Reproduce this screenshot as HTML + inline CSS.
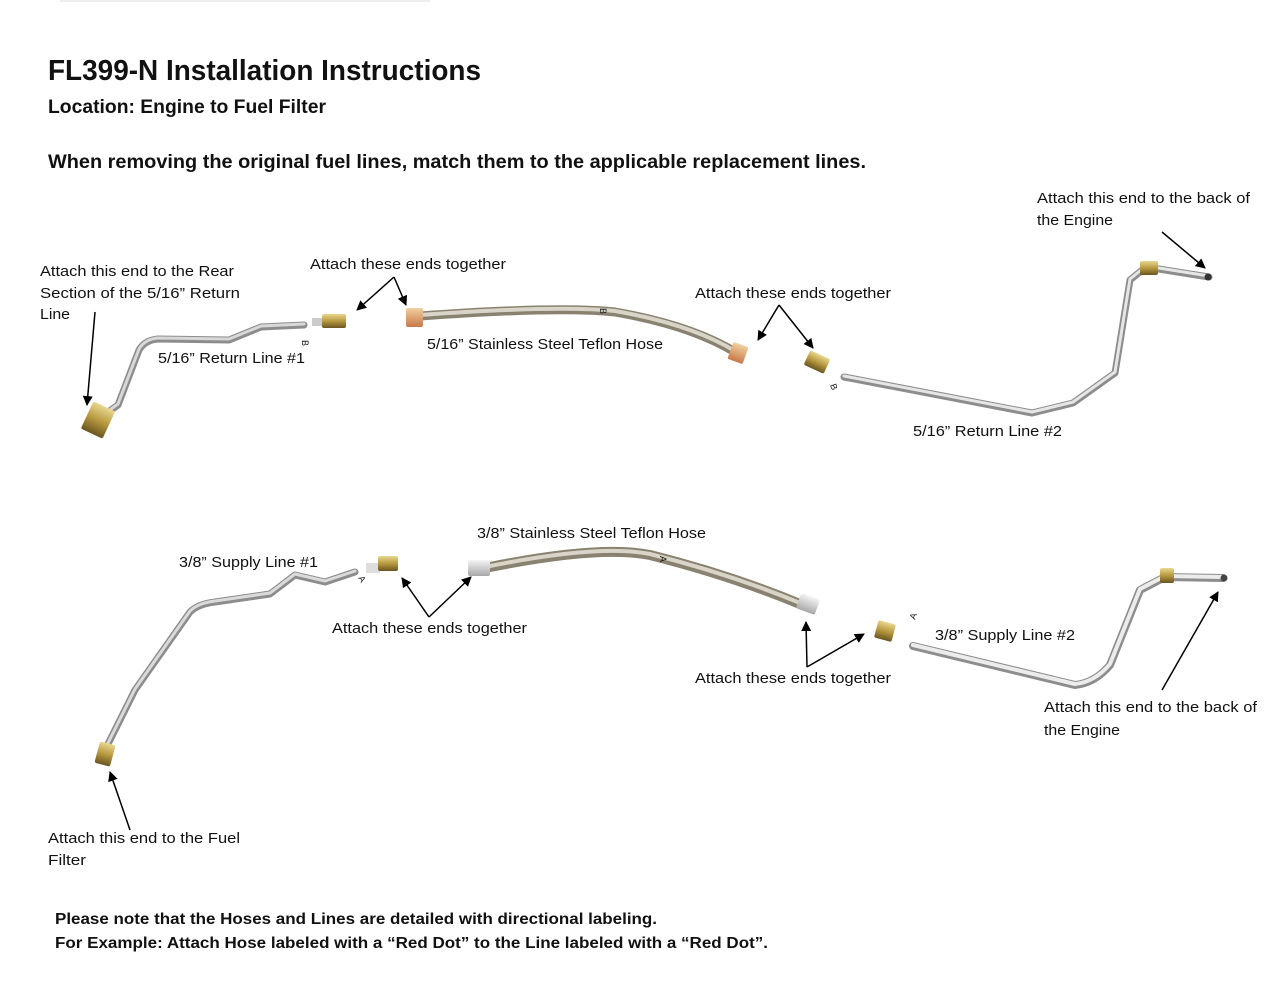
<!DOCTYPE html>
<html><head><meta charset="utf-8"><style>
html,body{margin:0;padding:0;background:#fff;}
svg{display:block;}
text{font-family:"Liberation Sans",sans-serif;fill:#111;}
.l{font-size:15px;}
.b{font-weight:bold;}
</style></head><body>
<svg width="1280" height="989" viewBox="0 0 1280 989" xmlns="http://www.w3.org/2000/svg">
<defs>
<marker id="ah" markerWidth="10" markerHeight="10" refX="9" refY="5" orient="auto" markerUnits="userSpaceOnUse"><path d="M0,0 L10,5 L0,10 z" fill="#000"/></marker>
<linearGradient id="gold" x1="0" y1="0" x2="0" y2="1"><stop offset="0" stop-color="#e8d890"/><stop offset="0.5" stop-color="#b89a40"/><stop offset="1" stop-color="#6a5520"/></linearGradient>
<linearGradient id="cop" x1="0" y1="0" x2="0" y2="1"><stop offset="0" stop-color="#f2d0a0"/><stop offset="1" stop-color="#c87848"/></linearGradient>
<linearGradient id="sil" x1="0" y1="0" x2="0" y2="1"><stop offset="0" stop-color="#f4f4f4"/><stop offset="1" stop-color="#a8a8a8"/></linearGradient>
</defs>
<line x1="60" y1="1" x2="430" y2="1" stroke="#eee" stroke-width="2"/>
<text x="48" y="80" class="b" font-size="29" textLength="433" lengthAdjust="spacingAndGlyphs">FL399-N Installation Instructions</text>
<text x="48" y="113" class="b" font-size="19" textLength="278" lengthAdjust="spacingAndGlyphs">Location: Engine to Fuel Filter</text>
<text x="48" y="168" class="b" font-size="19" textLength="818" lengthAdjust="spacingAndGlyphs">When removing the original fuel lines, match them to the applicable replacement lines.</text>

<g fill="none" stroke-linecap="round" stroke-linejoin="round">
<!-- return line 1 -->
<path d="M100,418 L118,405 L139,350 Q145,340 158,339 L229,340 L261,327 L304,325" stroke="#8d8d8d" stroke-width="7"/>
<path d="M100,417 L118,404 L139,349 Q145,339 158,338 L229,339 L261,326 L304,324" stroke="#d8d8d8" stroke-width="3"/>
<!-- return line 2 -->
<path d="M844,377 L1032,413 L1073,403 L1115,373 L1130,280 L1146,267 L1209,277" stroke="#8d8d8d" stroke-width="7"/>
<path d="M844,376 L1032,412 L1073,402 L1115,372 L1130,279 L1146,266 L1209,276" stroke="#e6e6e6" stroke-width="3"/>
<!-- hose 1 -->
<path d="M420,316 Q560,306 615,312 Q690,325 735,352" stroke="#8a8270" stroke-width="9"/>
<path d="M420,315 Q560,305 615,311 Q690,324 735,351" stroke="#d8d4c8" stroke-width="4"/>
<!-- supply line 1 -->
<path d="M105,750 L135,690 L190,612 Q198,604 215,602 L270,594 L295,575 L325,582 L355,572" stroke="#8d8d8d" stroke-width="7"/>
<path d="M105,749 L135,689 L190,611 Q198,603 215,601 L270,593 L295,574 L325,581 L355,571" stroke="#dadada" stroke-width="3"/>
<!-- hose 2 -->
<path d="M490,567 Q600,545 650,555 Q730,575 800,604" stroke="#8a8270" stroke-width="10"/>
<path d="M490,566 Q600,544 650,554 Q730,574 800,603" stroke="#d8d4c8" stroke-width="4"/>
<!-- supply line 2 -->
<path d="M913,646 L1075,685 Q1095,683 1110,665 L1140,590 L1165,577 L1223,578" stroke="#8d8d8d" stroke-width="8"/>
<path d="M913,645 L1075,684 Q1095,682 1110,664 L1140,589 L1165,576 L1223,577" stroke="#ececec" stroke-width="4"/>
</g>
<!-- fittings -->
<rect x="86" y="405" width="24" height="30" rx="2" fill="url(#gold)" transform="rotate(25 98 420)"/>
<rect x="312" y="318" width="12" height="8" fill="#ccc"/>
<rect x="322" y="314" width="24" height="14" rx="2" fill="url(#gold)"/>
<rect x="406" y="308" width="17" height="19" rx="2" fill="url(#cop)"/>
<rect x="730" y="344" width="16" height="18" rx="2" fill="url(#cop)" transform="rotate(20 738 353)"/>
<rect x="806" y="354" width="22" height="16" rx="2" fill="url(#gold)" transform="rotate(25 817 362)"/>
<rect x="1140" y="261" width="18" height="14" rx="2" fill="url(#gold)"/>
<circle cx="1208" cy="277" r="3.5" fill="#333"/>
<rect x="97" y="743" width="16" height="22" rx="2" fill="url(#gold)" transform="rotate(15 105 754)"/>
<rect x="366" y="563" width="14" height="10" fill="#ddd"/>
<rect x="378" y="556" width="20" height="15" rx="2" fill="url(#gold)"/>
<rect x="468" y="560" width="22" height="16" rx="2" fill="url(#sil)"/>
<rect x="798" y="596" width="20" height="16" rx="2" fill="url(#sil)" transform="rotate(20 808 604)"/>
<rect x="876" y="622" width="18" height="18" rx="2" fill="url(#gold)" transform="rotate(15 885 631)"/>
<rect x="1160" y="568" width="14" height="15" rx="2" fill="url(#gold)"/>
<circle cx="1224" cy="578" r="3.5" fill="#444"/>
<!-- small letters -->
<text x="302" y="340" font-size="9" transform="rotate(90 302 340)">B</text>
<text x="600" y="308" font-size="9" transform="rotate(90 600 308)">B</text>
<text x="830" y="385" font-size="9" transform="rotate(70 830 385)">B</text>
<text x="358" y="578" font-size="9" transform="rotate(60 358 578)">A</text>
<text x="660" y="556" font-size="9" transform="rotate(90 660 556)">A</text>
<text x="915" y="620" font-size="9" transform="rotate(-70 915 620)">A</text>
<!-- arrows -->
<g stroke="#000" stroke-width="1.5" fill="none" marker-end="url(#ah)">
<line x1="95" y1="312" x2="87" y2="405"/>
<line x1="394" y1="277" x2="357" y2="310"/>
<line x1="394" y1="277" x2="406" y2="305"/>
<line x1="779" y1="305" x2="758" y2="340"/>
<line x1="779" y1="305" x2="813" y2="348"/>
<line x1="1162" y1="232" x2="1205" y2="268"/>
<line x1="429" y1="617" x2="402" y2="578"/>
<line x1="429" y1="617" x2="471" y2="577"/>
<line x1="807" y1="667" x2="806" y2="622"/>
<line x1="807" y1="667" x2="864" y2="634"/>
<line x1="1162" y1="690" x2="1218" y2="592"/>
<line x1="130" y1="830" x2="110" y2="772"/>
</g>
<!-- labels -->
<g class="l">
<text x="40" y="276" textLength="194" lengthAdjust="spacingAndGlyphs">Attach this end to the Rear</text>
<text x="40" y="298" textLength="200" lengthAdjust="spacingAndGlyphs">Section of the 5/16” Return</text>
<text x="40" y="319" textLength="30" lengthAdjust="spacingAndGlyphs">Line</text>
<text x="310" y="269" textLength="196" lengthAdjust="spacingAndGlyphs">Attach these ends together</text>
<text x="158" y="363" textLength="147" lengthAdjust="spacingAndGlyphs">5/16” Return Line #1</text>
<text x="427" y="349" textLength="236" lengthAdjust="spacingAndGlyphs">5/16” Stainless Steel Teflon Hose</text>
<text x="695" y="298" textLength="196" lengthAdjust="spacingAndGlyphs">Attach these ends together</text>
<text x="1037" y="203" textLength="213" lengthAdjust="spacingAndGlyphs">Attach this end to the back of</text>
<text x="1037" y="225" textLength="76" lengthAdjust="spacingAndGlyphs">the Engine</text>
<text x="913" y="436" textLength="149" lengthAdjust="spacingAndGlyphs">5/16” Return Line #2</text>
<text x="477" y="538" textLength="229" lengthAdjust="spacingAndGlyphs">3/8” Stainless Steel Teflon Hose</text>
<text x="179" y="567" textLength="139" lengthAdjust="spacingAndGlyphs">3/8” Supply Line #1</text>
<text x="332" y="633" textLength="195" lengthAdjust="spacingAndGlyphs">Attach these ends together</text>
<text x="695" y="683" textLength="196" lengthAdjust="spacingAndGlyphs">Attach these ends together</text>
<text x="935" y="640" textLength="140" lengthAdjust="spacingAndGlyphs">3/8” Supply Line #2</text>
<text x="1044" y="712" textLength="213" lengthAdjust="spacingAndGlyphs">Attach this end to the back of</text>
<text x="1044" y="735" textLength="76" lengthAdjust="spacingAndGlyphs">the Engine</text>
<text x="48" y="843" textLength="192" lengthAdjust="spacingAndGlyphs">Attach this end to the Fuel</text>
<text x="48" y="865" textLength="38" lengthAdjust="spacingAndGlyphs">Filter</text>
</g>
<text x="55" y="924" class="b" font-size="16" textLength="602" lengthAdjust="spacingAndGlyphs">Please note that the Hoses and Lines are detailed with directional labeling.</text>
<text x="55" y="948" class="b" font-size="16" textLength="713" lengthAdjust="spacingAndGlyphs">For Example: Attach Hose labeled with a “Red Dot” to the Line labeled with a “Red Dot”.</text>
</svg>
</body></html>
